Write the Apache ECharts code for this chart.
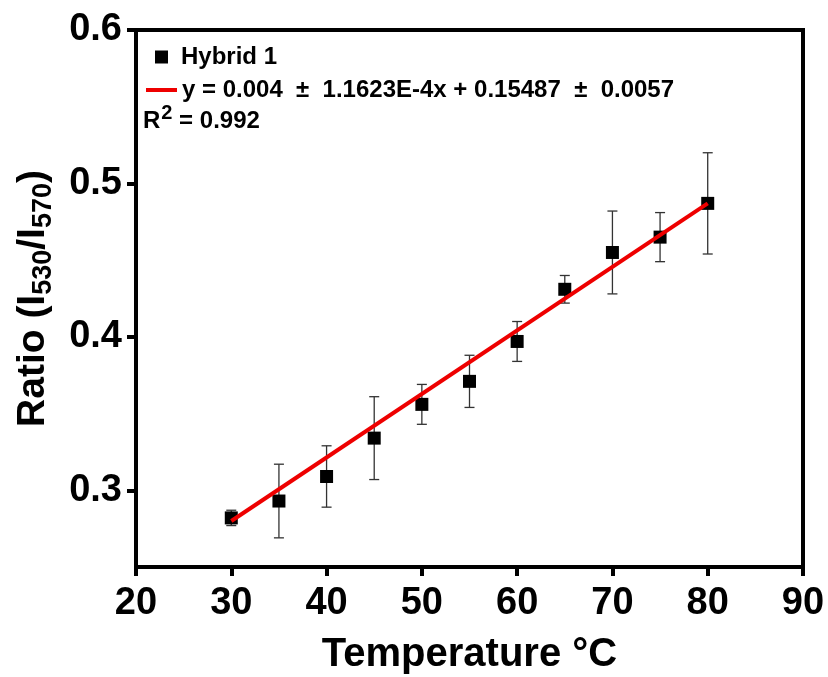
<!DOCTYPE html>
<html lang="en">
<head>
	<meta charset="utf-8"/>
	<title>Ratio vs Temperature</title>
	<script src="https://cdn.jsdelivr.net/npm/echarts@6/dist/echarts.min.js"></script>
	<style>
		html, body { margin: 0; padding: 0; background: #fff; }
		#main { width: 828px; height: 677px; }
	</style>
</head>
<body>
<div id="main"></div>
<script type="text/javascript">
	// data
	var temps = [30, 35, 40, 45, 50, 55, 60, 65, 70, 75, 80];
	var ratios = [0.282, 0.293, 0.309, 0.334, 0.356, 0.371, 0.397, 0.431, 0.455, 0.465, 0.487];
	var errs = [0.005, 0.024, 0.020, 0.027, 0.013, 0.017, 0.013, 0.009, 0.027, 0.016, 0.033];
	var fitX = [30, 80];
	var fitY = [0.280, 0.487];
	var xTicks = [20, 30, 40, 50, 60, 70, 80, 90];
	var yTicks = [0.3, 0.4, 0.5, 0.6];

	var fitName = 'y = 0.004\u00a0 \u00b1\u00a0 1.1623E-4x + 0.15487\u00a0 \u00b1\u00a0 0.0057';
	var font = '"Liberation Sans", Arial, sans-serif';

	var chart = echarts.init(document.getElementById('main'));

	var pts = temps.map(function (t, i) { return [t, ratios[i]]; });
	var bars = temps.map(function (t, i) { return [t, ratios[i] - errs[i], ratios[i] + errs[i]]; });
	var fit = fitX.map(function (x, i) { return [x, fitY[i]]; });

	var option = {
		backgroundColor: '#fff',
		animation: false,
		grid: {
			left: 136, right: 25, top: 30, bottom: 110,
			outerBoundsMode: 'none',
			show: true, borderColor: '#000', borderWidth: 4
		},
		legend: [{
			data: ['Hybrid 1'],
			left: 150, top: 40,
			icon: 'rect', itemWidth: 13, itemHeight: 13,
			textStyle: { fontFamily: font, fontWeight: 'bold', fontSize: 24, color: '#000', padding: [0, 0, 8, 8] }
		}, {
			data: [{ name: fitName, icon: 'rect' }],
			left: 141, top: 73,
			itemWidth: 31, itemHeight: 4,
			textStyle: { fontFamily: font, fontWeight: 'bold', fontSize: 24, color: '#000', padding: [0, 0, 10, 0] }
		}],
		graphic: [{
			type: 'text', left: 143, top: 103,
			style: {
				text: '{a|R}{s|2}{a| = 0.992}',
				rich: {
					a: { fontFamily: font, fontWeight: 'bold', fontSize: 24, fill: '#000', lineHeight: 30, verticalAlign: 'bottom' },
					s: { fontFamily: font, fontWeight: 'bold', fontSize: 20, fill: '#000', lineHeight: 30, verticalAlign: 'top', padding: [0, 0, 0, 1] }
				}
			}
		}],
		xAxis: {
			type: 'value', min: 20, max: 90, interval: 10,
			name: 'Temperature \u00b0C', nameLocation: 'middle', nameGap: 68, nameMoveOverlap: false,
			nameTextStyle: { fontFamily: font, fontWeight: 'bold', fontSize: 40, color: '#000' },
			axisLine: { lineStyle: { color: '#000', width: 4 } },
			axisTick: { inside: false, length: 9, lineStyle: { color: '#000', width: 4 } },
			axisLabel: { margin: 18, fontFamily: font, fontWeight: 'bold', fontSize: 38, color: '#000', customValues: xTicks },
			splitLine: { show: false }
		},
		yAxis: {
			type: 'value', min: 0.25, max: 0.6,
			name: '{a|Ratio (I}{s|530}{a|/I}{s|570}{a|)}', nameLocation: 'middle', nameGap: 72, nameRotate: 90, nameMoveOverlap: false,
			nameTextStyle: {
				rich: {
					a: { fontFamily: font, fontWeight: 'bold', fontSize: 39, color: '#000', lineHeight: 50, verticalAlign: 'top' },
					s: { fontFamily: font, fontWeight: 'bold', fontSize: 27, color: '#000', lineHeight: 50, verticalAlign: 'top', padding: [16, 0, 0, 0] }
				}
			},
			axisLine: { lineStyle: { color: '#000', width: 4 } },
			axisTick: { inside: false, length: 9, lineStyle: { color: '#000', width: 4 }, customValues: yTicks },
			axisLabel: {
				margin: 14, fontFamily: font, fontWeight: 'bold', fontSize: 38, color: '#000',
				customValues: yTicks,
				formatter: function (v) { return v.toFixed(1); }
			},
			splitLine: { show: false }
		},
		series: [{
			name: 'err',
			type: 'custom',
			data: bars,
			z: 2,
			renderItem: function (params, api) {
				var x = api.value(0);
				var lo = api.coord([x, api.value(1)]);
				var hi = api.coord([x, api.value(2)]);
				var cap = 5;
				var st = { stroke: '#333', lineWidth: 1.3 };
				return {
					type: 'group',
					children: [
						{ type: 'line', shape: { x1: lo[0], y1: lo[1], x2: hi[0], y2: hi[1] }, style: st },
						{ type: 'line', shape: { x1: lo[0] - cap, y1: lo[1], x2: lo[0] + cap, y2: lo[1] }, style: st },
						{ type: 'line', shape: { x1: hi[0] - cap, y1: hi[1], x2: hi[0] + cap, y2: hi[1] }, style: st }
					]
				};
			}
		}, {
			name: 'Hybrid 1',
			type: 'scatter',
			data: pts,
			symbol: 'rect',
			symbolSize: 13,
			itemStyle: { color: '#000', opacity: 1 },
			z: 3
		}, {
			name: fitName,
			type: 'line',
			data: fit,
			symbol: 'none',
			lineStyle: { color: '#ee0000', width: 4 },
			itemStyle: { color: '#ee0000' },
			z: 4
		}]
	};

	chart.setOption(option);
</script>
</body>
</html>
